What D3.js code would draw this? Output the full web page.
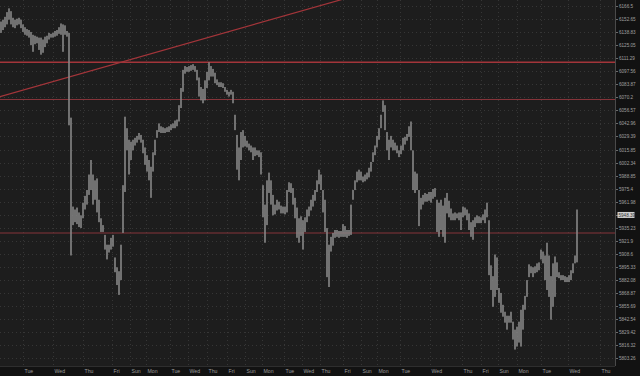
<!DOCTYPE html>
<html><head><meta charset="utf-8">
<script src="https://cdn.jsdelivr.net/npm/d3@7"></script>
<style>html,body{margin:0;padding:0;background:#121212;overflow:hidden}</style>
</head><body><svg id="c" width="640" height="376"></svg>
<script>
// ---- data ----
const highs = [6150,6152,6155,6160,6164,6161,6154,6152,6153,6154,6152,6147,6144,6142,6141,6139,6136,6135,6134,6133,
6133,6131,6134,6135,6138,6137,6138,6140,6141,6144,6148,6147,6146,6140,6138,6049,5957,5954,5956,5951,
5948,5961,5968,5974,5990,6005,5990,5984,5986,5964,5945,5938,5928,5918,5918,5925,5928,5905,5895,5891,
5918,5979,6050,6038,6026,6024,6026,6028,6030,6033,6031,6026,6018,6010,6005,5998,6013,6026,6036,6043,
6040,6039,6038,6039,6040,6042,6043,6046,6047,6062,6080,6099,6103,6102,6103,6104,6105,6103,6099,6091,
6081,6079,6088,6097,6107,6103,6100,6096,6089,6086,6086,6085,6081,6078,6076,6078,6076,6052,6031,6018,
6034,6036,6030,6025,6022,6020,6018,6018,6015,6015,6013,5979,5959,5984,5992,5984,5969,5959,5964,5962,
5958,5957,5957,5974,5982,5981,5976,5966,5956,5945,5947,5943,5946,5954,5957,5964,5969,5974,5984,5995,
5990,5974,5964,5935,5918,5926,5930,5933,5933,5932,5932,5939,5937,5933,5933,5959,5974,5984,5993,5995,
5993,5988,5990,5992,5997,6003,6013,6020,6030,6038,6052,6067,6062,6034,6026,6030,6026,6023,6020,6015,
6020,6028,6029,6032,6040,6045,6015,5993,5991,5974,5966,5969,5971,5970,5972,5972,5975,5976,5964,5961,
5964,5958,5966,5971,5963,5955,5950,5951,5950,5951,5951,5957,5956,5954,5950,5941,5943,5946,5948,5947,
5946,5949,5954,5961,5943,5897,5886,5908,5905,5874,5869,5857,5850,5846,5846,5850,5840,5832,5835,5840,
5852,5857,5866,5882,5898,5896,5895,5896,5899,5900,5913,5911,5907,5920,5907,5886,5899,5906,5900,5890,
5887,5887,5886,5885,5887,5892,5899,5907,5954];
const lows = [6138,6141,6144,6147,6152,6147,6144,6143,6146,6147,6143,6139,6136,6135,6133,6125,6118,6126,6127,6120,
6115,6117,6123,6127,6131,6133,6133,6134,6135,6137,6136,6118,6136,6134,6041,5907,5938,5941,5939,5936,
5935,5945,5954,5959,5969,5974,5959,5964,5951,5941,5931,5931,5913,5903,5910,5913,5916,5890,5877,5867,
5882,5930,5972,6015,5990,6005,6015,6020,6023,6026,6023,6012,6000,5993,5984,5966,5993,6010,6028,6034,
6033,6033,6033,6034,6034,6036,6038,6038,6040,6045,6059,6076,6095,6097,6097,6098,6099,6097,6088,6071,
6067,6064,6067,6080,6088,6092,6092,6085,6083,6081,6081,6080,6076,6073,6071,6073,6064,6036,5995,5984,
6005,6018,6019,6018,6015,6013,6005,6009,6010,6008,5990,5946,5920,5938,5971,5959,5948,5949,5953,5954,
5950,5950,5949,5951,5972,5971,5959,5945,5925,5920,5927,5913,5931,5941,5947,5953,5957,5963,5972,5980,
5974,5951,5931,5885,5875,5911,5917,5925,5926,5925,5926,5926,5926,5925,5927,5928,5964,5974,5982,5984,
5984,5982,5983,5985,5987,5993,6003,6010,6018,6026,6038,6055,6036,6015,6005,6018,6015,6015,6012,6008,
6011,6015,6021,6025,6029,6015,5974,5971,5974,5937,5954,5959,5962,5962,5963,5961,5965,5967,5931,5926,
5933,5926,5920,5950,5946,5943,5943,5943,5945,5943,5933,5946,5948,5943,5933,5926,5923,5936,5940,5940,
5940,5943,5940,5946,5887,5872,5855,5865,5872,5859,5849,5845,5839,5832,5839,5839,5822,5812,5815,5819,
5815,5832,5852,5865,5885,5889,5885,5889,5890,5892,5903,5899,5882,5872,5865,5842,5855,5865,5885,5884,
5882,5882,5880,5880,5880,5882,5889,5899,5900];
const lastPrice = 5948.39;
const priceTicks = [6166.5,6152.65,6138.83,6125.05,6111.29,6097.56,6083.87,6070.2,6056.57,6042.96,6029.39,
6015.85,6002.34,5988.85,5975.4,5961.98,5948.6,5935.23,5921.9,5908.6,5895.33,5882.08,5868.87,5855.69,
5842.54,5829.42,5816.32,5803.26];
const dayNames  = ["Mon","Tue","Wed","Thu","Fri","Sun","Mon","Tue","Wed","Thu","Fri","Sun","Mon","Tue",
"Wed","Thu","Fri","Sun","Mon","Tue","Wed","Thu","Fri","Sun","Mon","Tue","Wed","Thu"];
const dayStarts = [-7,11.5,26.5,41.5,56,65,73,85,94,103.5,113.5,122.5,131,142,151,160,171.5,180.5,188.5,
200,215,231,240.5,249,258.5,270.5,284,300];
const levelPrices = [6107,6068,5930];
const trendIdx = [0,200];
const trendPrice = [6071,6191];

// ---- drawing ----
const W=640,H=376,plotW=615,plotH=366;
const svg=d3.select('#c');
svg.append('rect').attr('width',W).attr('height',H).attr('fill','#121212');
svg.append('rect').attr('width',plotW).attr('height',plotH).attr('fill','#1d1d1d');
svg.append('defs').append('clipPath').attr('id','clip')
  .append('rect').attr('width',plotW).attr('height',plotH);

const x=d3.scaleLinear().domain([0,307.5]).range([0,plotW]);
const y=d3.scaleLog().domain([5803.26,6166.5]).range([358.3,6]);

const grid=svg.append('g').attr('clip-path','url(#clip)');
grid.selectAll('line.h').data(priceTicks).join('line')
  .attr('x1',0).attr('x2',plotW).attr('y1',d=>Math.round(y(d))+0.5).attr('y2',d=>Math.round(y(d))+0.5)
  .attr('stroke','#363636').attr('stroke-width',1).attr('stroke-dasharray','1,3');
grid.selectAll('line.v').data(dayStarts).join('line')
  .attr('y1',0).attr('y2',plotH).attr('x1',d=>Math.round(x(d))+0.5).attr('x2',d=>Math.round(x(d))+0.5)
  .attr('stroke','#363636').attr('stroke-width',1).attr('stroke-dasharray','1,3');

const plot=svg.append('g').attr('clip-path','url(#clip)');
plot.selectAll('line.lvl').data(levelPrices).join('line')
  .attr('x1',0).attr('x2',plotW).attr('y1',d=>y(d)).attr('y2',d=>y(d))
  .attr('stroke',(d,i)=>i===0?'#a3353a':'#86343a').attr('stroke-width',(d,i)=>i===0?1.4:1.1);
plot.append('line')
  .attr('x1',x(trendIdx[0])).attr('y1',y(trendPrice[0]))
  .attr('x2',x(trendIdx[1])).attr('y2',y(trendPrice[1]))
  .attr('stroke','#a3353a').attr('stroke-width',1.2);
plot.selectAll('rect.bar').data(highs).join('rect')
  .attr('x',(d,i)=>x(i)+0.2).attr('width',1.6)
  .attr('y',d=>y(d)).attr('height',(d,i)=>Math.max(1,y(lows[i])-y(d)))
  .attr('fill','#878787');

svg.append('line').attr('x1',plotW+0.5).attr('x2',plotW+0.5).attr('y1',0).attr('y2',plotH)
  .attr('stroke','#4a4a4a');
svg.append('line').attr('x1',0).attr('x2',plotW).attr('y1',plotH+0.5).attr('y2',plotH+0.5)
  .attr('stroke','#2e2e2e');

const font='"Liberation Sans", Arial, sans-serif';
const ax=svg.append('g');
const ly=y(lastPrice);
priceTicks.forEach(v=>{
  const yy=Math.round(y(v))+0.5;
  ax.append('line').attr('x1',plotW+1).attr('x2',plotW+3).attr('y1',yy).attr('y2',yy).attr('stroke','#6a6a6a');
  if (Math.abs(y(v)-ly) < 6) return; // hidden behind the last-price marker
  ax.append('text').attr('x',plotW+4).attr('y',yy).attr('dy','0.35em')
    .attr('font-family',font).attr('font-size',4.6).attr('fill','#a0a0a0').text(v);
});
ax.append('rect').attr('x',plotW+2.5).attr('y',ly-3).attr('width',17).attr('height',6).attr('fill','#cfcfcf');
ax.append('text').attr('x',plotW+3.5).attr('y',ly).attr('dy','0.35em')
  .attr('font-family',font).attr('font-size',4.6).attr('fill','#333').text(lastPrice);

const bx=svg.append('g');
dayNames.forEach((n,i)=>{
  bx.append('text').attr('x',x(dayStarts[i])+1.5).attr('y',371).attr('dy','0.35em')
    .attr('font-family',font).attr('font-size',5.2).attr('fill','#9a9a9a').text(n);
});
</script></body></html>
